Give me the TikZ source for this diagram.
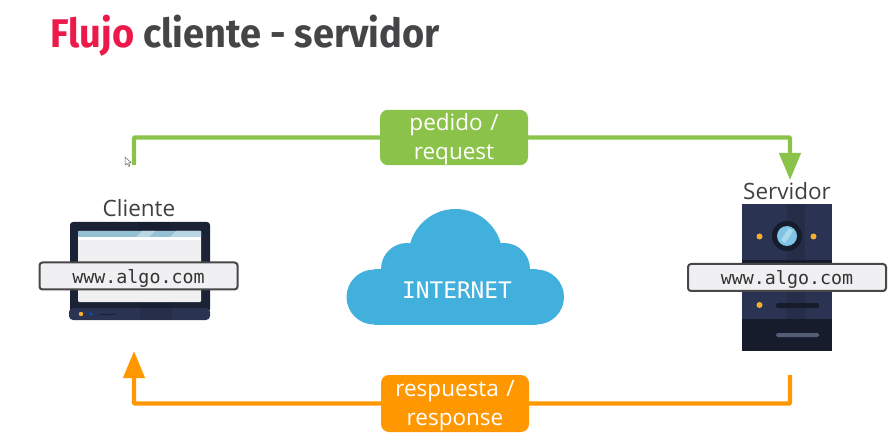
\documentclass[tikz,border=0pt]{standalone}
\usepackage{fontspec}
\setmainfont{Open Sans}
\newfontfamily\titlefont[FakeStretch=0.95]{Fira Sans}
\setmonofont{DejaVu Sans Mono}
\usetikzlibrary{arrows.meta, positioning}

\definecolor{flujored}{HTML}{EC1A4B}
\definecolor{titlegray}{HTML}{454548}
\definecolor{pedidogreen}{HTML}{8BC34A}
\definecolor{respuestaorange}{HTML}{FF9800}
\definecolor{cloudblue}{HTML}{42B0DC}
\definecolor{navyframe}{HTML}{1B2236}
\definecolor{navybody}{HTML}{2A3352}
\definecolor{navydark}{HTML}{171C2C}
\definecolor{screenpaper}{HTML}{F0F0F2}
\definecolor{screenbar}{HTML}{94C2D4}
\definecolor{lensblue}{HTML}{7FC4E4}
\definecolor{ledorange}{HTML}{FBAE2E}

\tikzset{
  labelbox/.style={rounded corners=8pt, text=white, align=center, text width=148pt,
    inner sep=0pt, font=\fontsize{22.5}{29}\selectfont, execute at begin node=\rule{0pt}{21pt}},
  urlbox/.style={draw=black!72, line width=2pt, fill=screenpaper, rounded corners=3pt,
    minimum width=198pt, minimum height=27pt, inner sep=0pt, text=black!80,
    text height=15pt, text depth=0pt, font=\ttfamily\fontsize{18.3}{20}\selectfont},
  hostname/.style={inner sep=0pt, text=black!75, font=\fontsize{22.5}{26}\selectfont},
  flowline/.style={line width=4.4pt, rounded corners=1pt, -{Triangle[length=27pt, width=21pt]}},
  led/.style={fill=ledorange},
  cloudpart/.style={fill=cloudblue}
}

\begin{document}
\begin{tikzpicture}[x=1pt, y=-1pt]
\useasboundingbox (0,0) rectangle (893,435);

% title
\node (title) [anchor=base west, inner sep=0pt, font=\titlefont\bfseries\fontsize{40}{42}\selectfont,
  text=titlegray] at (50,48) {\textcolor{flujored}{Flujo} cliente - servidor};

% laptop
\fill[navyframe, rounded corners=3pt] (70,222) rectangle (210,312);
\fill[navydark, opacity=.4] (138,222) rectangle (170,308);
\fill[navybody, rounded corners=4pt] (69,308) rectangle (210,320);
\fill[navydark, opacity=.2] (140,308) rectangle (172,320);
\fill[screenpaper, rounded corners=1pt] (78,231) rectangle (201,302);
\fill[white] (78,237) rectangle (201,240);
\fill[screenbar] (78,231) rectangle (201,237);
\fill[screenbar!65!white] (136,237) -- (142,231) -- (155,231) -- (149,237) -- cycle;
\fill[screenbar!65!white] (170,237) -- (176,231) -- (201,231) -- (201,237) -- cycle;
\fill[ledorange] (81,314) circle (2.2pt);
\fill[blue!60!cyan!80!black] (91,314) circle (1.6pt);
\fill[navyframe] (99,313.5) rectangle (116,315);

% server
\fill[navybody] (742,204) rectangle (832,351);
\fill[navydark, opacity=.25] (787,204) rectangle (805,319);
\fill[navydark] (742,260) rectangle (832,265);
\fill[navydark] (742,319) rectangle (832,351);
\fill[navydark] (787,236) circle (15pt);
\fill[lensblue] (787,236) circle (10pt);
\fill[white, opacity=.35] (781,240) -- (789,228) -- (793,231) -- (785,243) -- cycle;
\fill[led] (759.5,236.5) circle (3pt);
\fill[led] (813.5,236.5) circle (3pt);
\fill[led] (759.5,305) circle (3pt);
\fill[navydark, rounded corners=1.5pt] (776,303) rectangle (819,308);
\fill[navybody!80!white, rounded corners=1.5pt] (776,333) rectangle (819,337);

% cloud
\fill[cloudpart] (374,297) circle (27.5pt);
\fill[cloudpart] (536.5,297) circle (27.5pt);
\fill[cloudpart] (407,269) circle (26pt);
\fill[cloudpart] (504,269) circle (26pt);
\fill[cloudpart] (455.5,256) circle (47pt);
\fill[cloudpart] (374,269.5) rectangle (536.5,324.5);
\node (internet) [inner sep=0pt, text=white, font=\ttfamily\fontsize{22.8}{24}\selectfont]
  at (457,290) {INTERNET};

% hosts
\node (cliente) [hostname] at (139,208) {Cliente};
\node (servidor) [hostname] at (787,191) {Servidor};
\node (urlcliente) [urlbox] at (138.5,276) {www.algo.com};
\node (urlservidor) [urlbox] at (787,277.5) {www.algo.com};

% flow
\coordinate (pedidostart) at (134,165);
\coordinate (pedidoend) at (790,180);
\coordinate (respuestastart) at (790,375);
\coordinate (respuestaend) at (134,351);
\node (pedido) [labelbox, fill=pedidogreen, minimum height=53pt] at (454,137.5) {pedido /\\request};
\node (respuesta) [labelbox, fill=respuestaorange, minimum height=57pt] at (455,403.5) {respuesta /\\response};
\draw[flowline, pedidogreen] (pedidostart) |- (pedido.west) (pedido.east) -| (pedidoend);
\draw[flowline, respuestaorange] (respuestastart) |- (respuesta.east) (respuesta.west) -| (respuestaend);

% cursor
\draw[black!60, fill=white, line width=.5pt] (125,157) -- (125,165) -- (127,163.5) -- (129,166.5) -- (130,165.5) -- (128.5,163) -- (131,162.5) -- cycle;
\end{tikzpicture}
\end{document}
